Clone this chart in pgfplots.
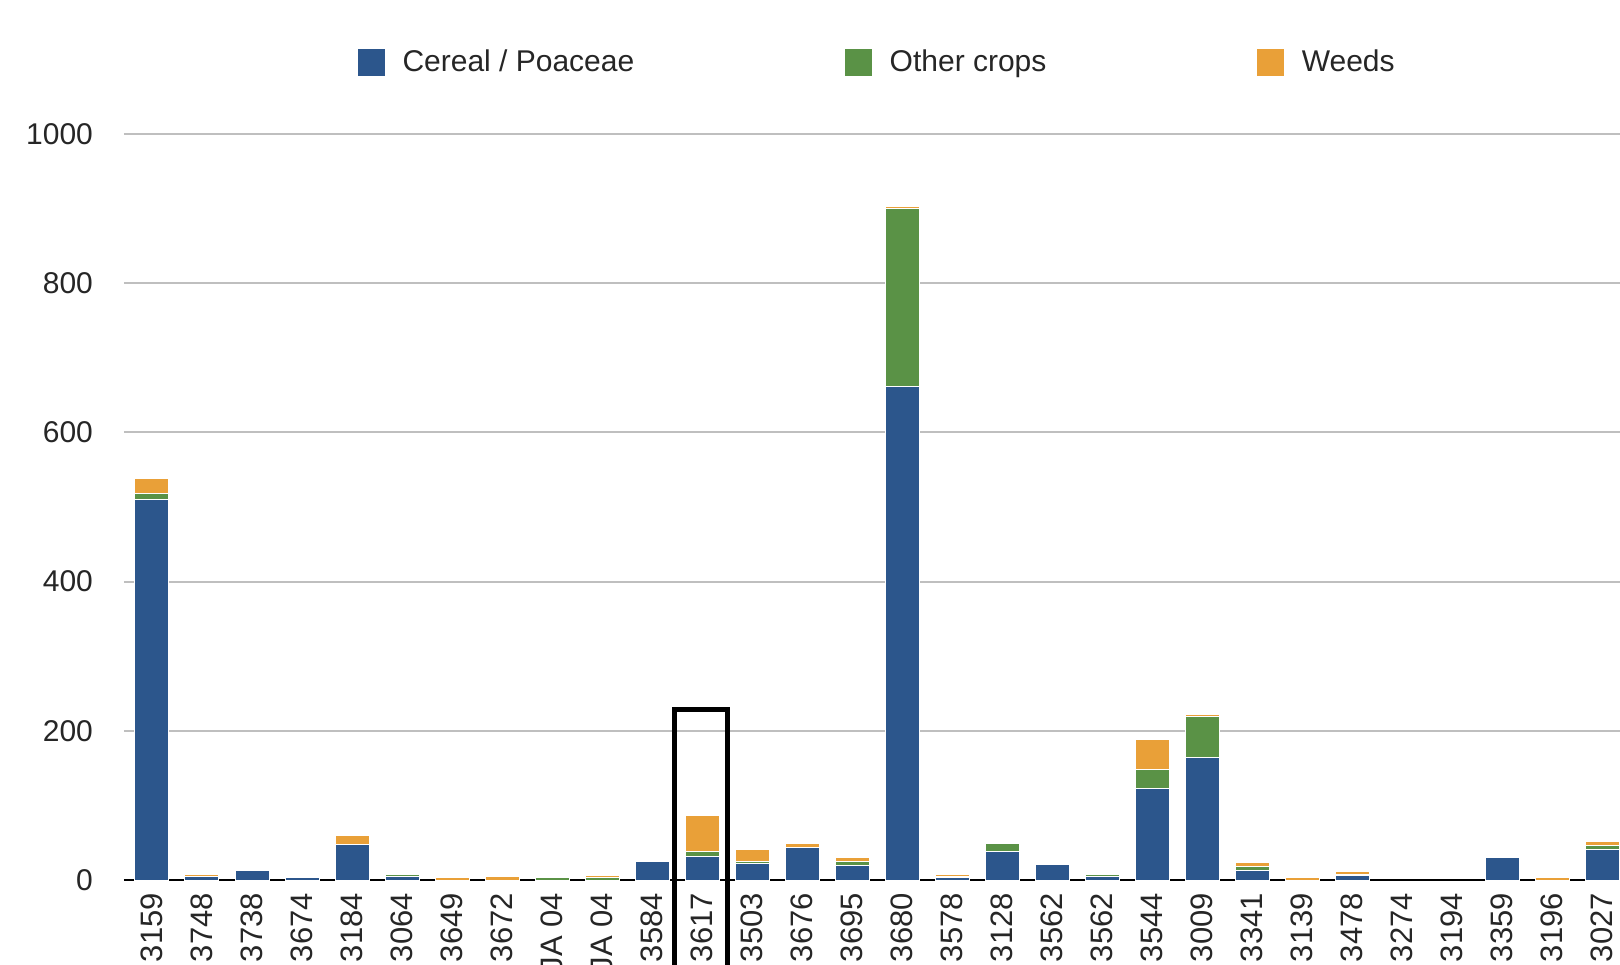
\documentclass[border=0pt]{standalone}
\usepackage{fontspec}
\setmainfont{Liberation Sans}
\usepackage{pgfplots}
\usepackage{pgfplotstable}
\pgfplotsset{compat=1.18}

\definecolor{cereal}{HTML}{2C568C}
\definecolor{othercrop}{HTML}{5A9246}
\definecolor{weeds}{HTML}{E9A038}

% sample, cereal / poaceae, other crops, weeds
\pgfplotstableread{
x  cereal other weeds
0  510  8    20
1  5    0    3
2  13   0    0
3  3    0    0
4  48   0    12
5  5    3    0
6  0    0    3
7  0    0    5
8  0    3    0
9  0    3    2.5
10 25   0    0
11 32   6    49
12 22   3    16
13 43   0    6
14 19   6    5
15 661  239  3
16 3    2    3
17 38   11   0
18 21   0    0
19 5    3    0
20 123  25   40
21 164  55   3
22 13   5    6
23 0    0    3
24 6    2    3
25 0    0    0
26 0    0    0
27 30   2    0
28 0    0    4
29 41   5    5
}\samples

\begin{document}
\begin{tikzpicture}
\begin{axis}[
  at={(0pt,0pt)}, anchor=south west,
  scale only axis, width=748pt, height=373pt,
  xmin=-0.56, xmax=29.36, ymin=0, ymax=1000,
  ybar stacked, bar width=17pt,
  axis line style={draw=none},
  tick style={draw=none},
  ytick={0,200,...,1000},
  ymajorgrids, grid style={black!25, line width=1pt},
  xtick={0,...,29},
  xticklabels={3159,3748,3738,3674,3184,3064,3649,3672,JA 04,JA 04,3584,3617,3503,3676,3695,3680,3578,3128,3562,3562,3544,3009,3341,3139,3478,3274,3194,3359,3196,3027},
  x tick label style={rotate=90, anchor=east, font=\fontsize{15.5}{18}\selectfont, text=black!85},
  xticklabel shift=3pt,
  y tick label style={font=\fontsize{15}{18}\selectfont, text=black!85, xshift=-12pt},
  /pgf/number format/assume math mode=true,
  /pgf/number format/1000 sep={},
  clip=false,
  legend columns=3,
  legend style={draw=none, fill=none, at={(0.1522,1.0965)}, anchor=west,
    font=\fontsize{15}{18}\selectfont, text=black!85,
    /tikz/every odd column/.append style={column sep=6.7pt},
    /tikz/every even column/.append style={column sep=103.5pt}},
  legend image code/.code={\fill[#1,draw=none] (0pt,-6.75pt) rectangle (13.5pt,6.75pt);},
]
\addplot[fill=cereal, draw=white, line width=0.5pt] table[x=x, y=cereal]{\samples};
\addplot[fill=othercrop, draw=white, line width=0.5pt] table[x=x, y=other]{\samples};
\addplot[fill=weeds, draw=white, line width=0.5pt] table[x=x, y=weeds]{\samples};
\legend{Cereal / Poaceae, Other crops, Weeds}
% baseline
\draw[black, line width=1.3pt] (rel axis cs:0,0) -- (rel axis cs:1,0);
% highlighted sample
\draw[black, line width=2.5pt, line join=miter] (axis cs:10.44,-250) -- (axis cs:10.44,228) -- (axis cs:11.5,228) -- (axis cs:11.5,-250);
\end{axis}
\pgfresetboundingbox
\useasboundingbox (-62pt,-42pt) rectangle (748pt,440pt);
\end{tikzpicture}
\end{document}
